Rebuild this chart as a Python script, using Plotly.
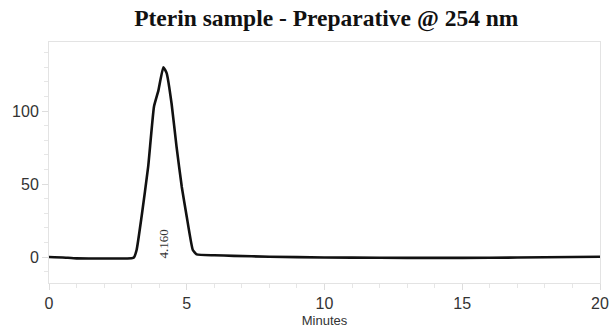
import plotly.graph_objects as go

minutes = [0.0, 0.5, 1.0, 2.0, 3.0, 3.08, 3.18, 3.36, 3.60, 3.81, 3.97, 4.15, 4.27, 4.45, 4.63, 4.82, 5.0, 5.22, 5.36, 6.0, 6.7, 8.0, 10.0, 12.0, 14.0, 16.0, 18.0, 20.0]
absorbance = [0.0, -0.3, -0.9, -1.0, -0.8, -0.3, 4.8, 27.6, 61.9, 103.0, 114.0, 130.0, 126.0, 105.0, 75.5, 48.0, 27.6, 4.8, 1.8, 1.2, 0.8, 0.2, -0.3, -0.5, -0.6, -0.5, -0.2, 0.2]
peak_time = 4.160
peak_label = "4.160"
x_ticks = [0, 5, 10, 15, 20]
y_ticks = [0, 50, 100]

fig = go.Figure()
fig.add_trace(go.Scatter(x=minutes, y=absorbance, mode="lines",
                         line=dict(color="#111111", width=2.6, shape="spline", smoothing=0.4),
                         hoverinfo="skip"))

fig.add_annotation(x=peak_time, y=9, text=peak_label, textangle=-90, showarrow=False,
                   font=dict(family="Liberation Serif, Times New Roman, serif", size=13, color="#333333"))

fig.update_layout(
    width=611, height=330,
    margin=dict(l=49, r=11, t=42, b=47),
    paper_bgcolor="white", plot_bgcolor="white",
    showlegend=False,
    title=dict(text="<b>Pterin sample - Preparative @ 254 nm</b>", x=0.534, xanchor="center",
               y=0.945, yanchor="middle",
               font=dict(family="Liberation Serif, Times New Roman, serif", size=23.5, color="#111111")),
    xaxis=dict(range=[0, 20], tickvals=x_ticks, showgrid=False, zeroline=False, automargin=False,
               showline=True, linecolor="#e3e3e3", linewidth=1, mirror=True,
               ticks="outside", ticklen=6, tickcolor="#dddddd",
               minor=dict(dtick=1, ticks="outside", ticklen=4, tickcolor="#e6e6e6"),
               tickfont=dict(family="Liberation Sans, Arial, sans-serif", size=16, color="#333333"),
               title=dict(text="Minutes", standoff=4,
                          font=dict(family="Liberation Sans, Arial, sans-serif", size=13, color="#333333"))),
    yaxis=dict(range=[-17.8, 147.3], tickvals=y_ticks, showgrid=False, zeroline=False, automargin=False,
               showline=True, linecolor="#e3e3e3", linewidth=1, mirror=True,
               ticks="outside", ticklen=6, tickcolor="#dddddd",
               minor=dict(dtick=10, ticks="outside", ticklen=4, tickcolor="#e6e6e6"),
               tickfont=dict(family="Liberation Sans, Arial, sans-serif", size=16, color="#333333")),
)

fig.write_html("out.html")
